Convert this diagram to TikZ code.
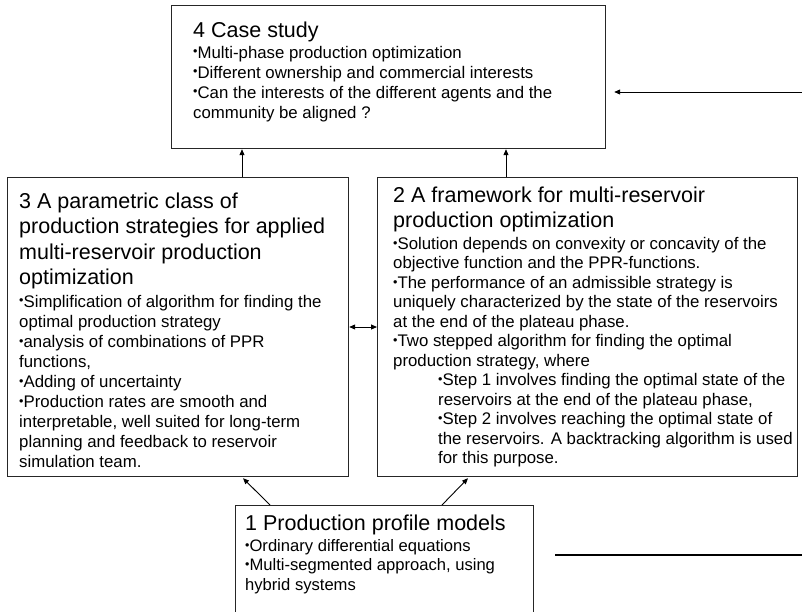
\documentclass[tikz,border=0pt]{standalone}
\usepackage{fontspec}
\setmainfont{Liberation Sans}
\usetikzlibrary{arrows.meta,calc}
\newcommand\bul{\raisebox{0.12em}{\scalebox{0.75}{•}}}
\newcommand\ttl{\fontsize{21.5}{25.5}\selectfont}
\newcommand\bdy{\fontsize{16.8}{20}\selectfont}
\tikzset{
  box/.style={draw=black!85, line width=1.2pt, inner sep=0pt, anchor=north west},
  txt/.style={anchor=base west, inner sep=0pt},
  arr/.style={line width=0.9pt, -{Triangle[length=6pt,width=5pt]}},
  arrb/.style={line width=0.9pt, {Triangle[length=6pt,width=5pt]}-{Triangle[length=6pt,width=5pt]}},
}
\begin{document}
\begin{tikzpicture}[x=1pt,y=-1pt]
\useasboundingbox (0,0) rectangle (802,611);
\clip (0,0) rectangle (802,611);
\fill[white] (0,0) rectangle (802,611);
% boxes
\node[box, minimum width=434pt, minimum height=143pt] (b4) at (171,5) {};
\node[box, minimum width=341pt, minimum height=299pt] (b3) at (7,177) {};
\node[box, minimum width=420pt, minimum height=299pt] (b2) at (377,177) {};
\node[box, minimum width=298pt, minimum height=130pt] (b1) at (235,505) {};
% texts box 4
\node[txt] (t4) at (193,37) {\parbox[t]{440pt}{\raggedright\ttl 4 Case study}};
\node[txt] (c4) at (193,58) {\parbox[t]{440pt}{\raggedright\bdy
\bul Multi-phase production optimization\\
\bul Different ownership and commercial interests\\
\bul Can the interests of the different agents and the\\
community be aligned ?}};
% texts box 3
\node[txt] (t3) at (19,208) {\parbox[t]{360pt}{\raggedright\ttl 3 A parametric class of\\
production strategies for applied\\
multi-reservoir production\\
optimization}};
\node[txt] (c3) at (19,307) {\parbox[t]{360pt}{\raggedright\fontsize{16.8}{20.1}\selectfont
\bul Simplification of algorithm for finding the\\
optimal production strategy\\
\bul analysis of combinations of PPR\\
functions,\\
\bul Adding of uncertainty\\
\bul Production rates are smooth and\\
interpretable, well suited for long-term\\
planning and feedback to reservoir\\
simulation team.}};
% texts box 2
\node[txt] (t2) at (393,202) {\parbox[t]{420pt}{\raggedright\fontsize{21.5}{25}\selectfont 2 A framework for multi-reservoir\\
production optimization}};
\node[txt] (c2) at (393,249.5) {\parbox[t]{420pt}{\raggedright\fontsize{16.8}{19.45}\selectfont
\bul Solution depends on convexity or concavity of the\\
objective function and the PPR-functions.\\
\bul The performance of an admissible strategy is\\
uniquely characterized by the state of the reservoirs\\
at the end of the plateau phase.\\
\bul Two stepped algorithm for finding the optimal\\
production strategy, where\\
\hspace*{45pt}\bul Step 1 involves finding the optimal state of the\\
\hspace*{45pt}reservoirs at the end of the plateau phase,\\
\hspace*{45pt}\bul Step 2 involves reaching the optimal state of\\
\hspace*{45pt}the reservoirs. A backtracking algorithm is used\\
\hspace*{45pt}for this purpose.}};
% texts box 1
\node[txt] (t1) at (245,530) {\parbox[t]{320pt}{\raggedright\ttl 1 Production profile models}};
\node[txt] (c1) at (245,551) {\parbox[t]{300pt}{\raggedright\fontsize{16.6}{19.5}\selectfont
\bul Ordinary differential equations\\
\bul Multi-segmented approach, using\\
hybrid systems}};
% connectors
\draw[arr] (b3.north -| 242,0) -- (b4.south -| 242,0);
\draw[arr] (b2.north -| 506,0) -- (b4.south -| 506,0);
\draw[arrb] (b3.east |- 0,327) -- (b2.west |- 0,327);
\draw[arr] ($(b1.north west)+(35,0)$) -- ($(b3.south west)+(236,1)$);
\draw[arr] ($(b1.north west)+(207,0)$) -- ($(b2.south west)+(91,1)$);
\coordinate (r1) at (802,92);
\draw[arr, shorten >=8pt] (r1) -- (r1 -| b4.east);
\coordinate (l1) at (555,555);
\coordinate (l2) at (802,555);
\draw[line width=1.2pt] (l1) -- (l2);
\end{tikzpicture}
\end{document}
